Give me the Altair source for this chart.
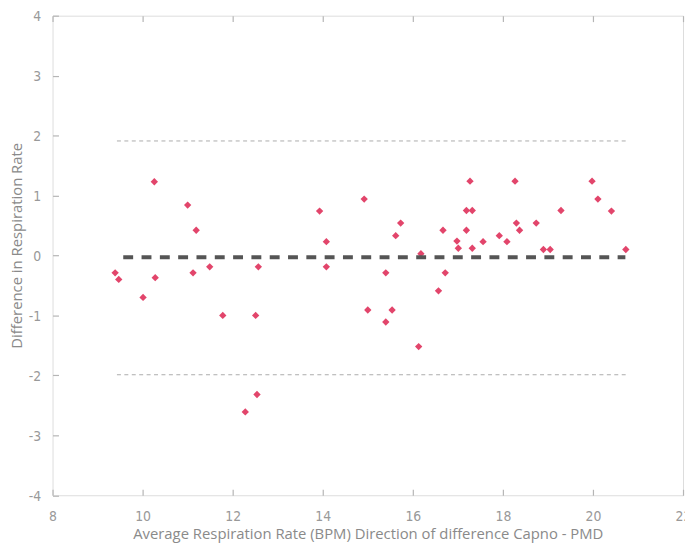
import altair as alt
import pandas as pd

# Bland-Altman points: average RR (x) vs difference (y)
avg_rr = [10.26, 11.00, 11.19, 9.39, 9.47, 10.28, 11.12, 11.49, 12.57, 10.01,
          11.78, 12.51, 12.54, 12.28, 13.93, 14.08, 14.08, 14.92, 15.00, 15.40,
          15.40, 15.54, 15.62, 15.73, 16.18, 16.13, 16.57, 16.67, 16.72, 16.98,
          17.01, 17.19, 17.19, 17.27, 17.32, 17.32, 17.56, 17.92, 18.09, 18.27,
          18.30, 18.37, 18.74, 18.90, 19.05, 19.29, 19.98, 20.11, 20.41, 20.73]
diff_rr = [1.23, 0.84, 0.42, -0.29, -0.40, -0.37, -0.29, -0.19, -0.19, -0.70,
           -1.00, -1.00, -2.32, -2.61, 0.74, 0.23, -0.19, 0.94, -0.91, -0.29,
           -1.11, -0.91, 0.33, 0.54, 0.03, -1.52, -0.59, 0.42, -0.29, 0.24,
           0.12, 0.75, 0.42, 1.24, 0.75, 0.12, 0.23, 0.33, 0.23, 1.24,
           0.54, 0.42, 0.54, 0.10, 0.10, 0.75, 1.24, 0.94, 0.74, 0.10]

# reference lines: mean difference and limits of agreement
limit_y = [1.91, -1.99]
limit_x = [9.43, 20.73]
mean_y = [-0.03]
mean_x = [9.57, 20.72]

x_ticks = [8, 10, 12, 14, 16, 18, 20, 22]
y_ticks = [-4, -3, -2, -1, 0, 1, 2, 3, 4]

pts = pd.DataFrame({"x": avg_rr, "y": diff_rr})
lim = pd.DataFrame({"y": limit_y, "x": [limit_x[0]] * 2, "x2": [limit_x[1]] * 2})
mean = pd.DataFrame({"y": mean_y, "x": [mean_x[0]], "x2": [mean_x[1]]})

LABEL_FONT = "Liberation Sans Narrow, DejaVu Sans Condensed, Roboto Condensed, sans-serif"
TITLE_FONT = "Open Sans"
TICK_COLOR = "#b5b5b5"

xscale = alt.Scale(domain=[8, 22], nice=False, zero=False)
yscale = alt.Scale(domain=[-4, 4], nice=False, zero=False)

x_axis = alt.Axis(
    values=x_ticks, orient="bottom", offset=-6, tickSize=6, domain=False, grid=False,
    labelPadding=15, labelFont=LABEL_FONT, labelFontSize=14, labelColor="#999999",
    labelFlush=False, tickColor=TICK_COLOR, tickWidth=1.2,
    title="Average Respiration Rate (BPM) Direction of difference Capno - PMD",
    titleFont=TITLE_FONT, titleFontSize=15, titleFontWeight="normal", titleColor="#8a8a8a",
    titleBaseline="alphabetic", titleX=318.5, titleY=50,
)
y_axis = alt.Axis(
    values=y_ticks, orient="left", offset=-6, tickSize=6, domain=False, grid=False,
    labelPadding=12, labelFont=LABEL_FONT, labelFontSize=14, labelColor="#999999",
    labelOffset=1, labelExpr="'' + datum.value", tickColor=TICK_COLOR, tickWidth=1.2,
    title="Difference in Respiration Rate",
    titleFont=TITLE_FONT, titleFontSize=15, titleFontWeight="normal", titleColor="#8a8a8a",
    titleBaseline="middle", titleAngle=270, titleX=-42, titleY=232,
)
top_axis = alt.Axis(
    values=x_ticks, orient="top", offset=-6, tickSize=6, domain=False, grid=False,
    labels=False, title=None, tickColor=TICK_COLOR, tickWidth=1.2,
)

points = alt.Chart(pts).mark_point(
    shape="diamond", filled=True, size=55, color="#e2456b", opacity=1
).encode(
    x=alt.X("x:Q", scale=xscale, axis=x_axis),
    y=alt.Y("y:Q", scale=yscale, axis=y_axis),
)

limits = alt.Chart(lim).mark_rule(
    color="#ababab", strokeWidth=1, strokeDash=[4, 3.5]
).encode(
    x=alt.X("x:Q", scale=xscale, axis=top_axis),
    x2="x2:Q",
    y=alt.Y("y:Q", scale=yscale),
)

mean_line = alt.Chart(mean).mark_rule(
    color="#555555", strokeWidth=4, strokeDash=[10, 8.5]
).encode(
    x=alt.X("x:Q", scale=xscale, axis=None),
    x2="x2:Q",
    y=alt.Y("y:Q", scale=yscale),
)

chart = alt.layer(points, limits, mean_line).resolve_scale(
    x="shared", y="shared"
).resolve_axis(x="independent").properties(
    width=637, height=484.5,
    autosize=alt.AutoSizeParams(type="none"),
    padding={"left": 45, "top": 5, "right": 2, "bottom": 45.5},
).configure_view(
    stroke="#b8b8b8", strokeWidth=1.6, cornerRadius=6
).configure(background="white")

chart.save("out.html", embed_options={"renderer": "svg", "actions": False})
